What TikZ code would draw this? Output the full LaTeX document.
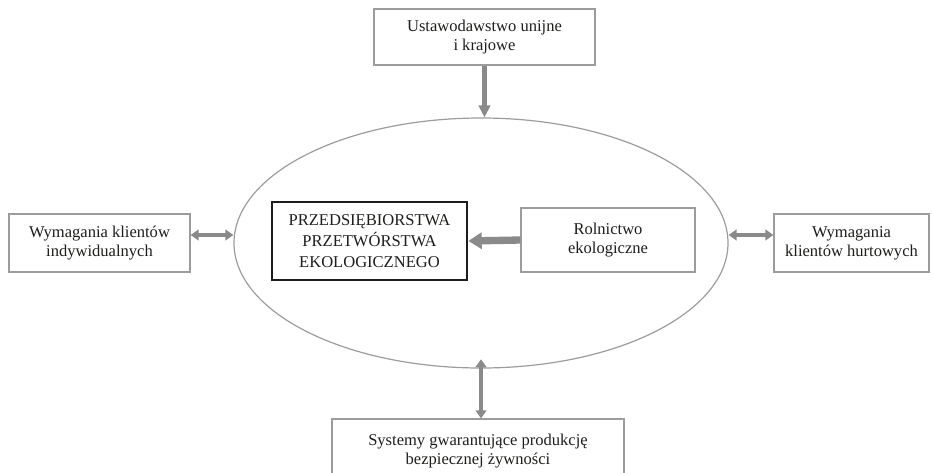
\documentclass[tikz,border=0pt]{standalone}
\usepackage{fontspec}
\setmainfont{Liberation Serif}
\usetikzlibrary{arrows.meta,positioning,calc,shapes.geometric}
\definecolor{ink}{HTML}{1D1D1B}
\definecolor{frame}{HTML}{9C9C9C}
\definecolor{shaft}{HTML}{8A8A8A}
\tikzset{
  base/.style={align=center, inner sep=0pt, font=\fontsize{12.4}{14.5}\selectfont, text=ink},
  card/.style={base, draw=frame, line width=0.9pt},
  core/.style={base, draw=ink, line width=2pt, font=\fontsize{12.4}{16}\selectfont},
  oval/.style={ellipse, draw=frame, line width=0.9pt, inner sep=0pt},
  push/.style={-{Triangle[length=9pt,width=8.5pt]}, line width=3.3pt, draw=shaft, fill=shaft},
  fat/.style={-{Triangle[length=10pt,width=12pt]}, line width=5.5pt, draw=shaft, fill=shaft},
  both/.style={{Triangle[length=6pt,width=8pt]}-{Triangle[length=6pt,width=8pt]}, line width=3.3pt, draw=shaft, fill=shaft},
}

\begin{document}
\begin{tikzpicture}[x=0.75pt,y=-0.75pt]
        \useasboundingbox (0,0) rectangle (932,472);
        \node[oval, minimum width=370.5pt, minimum height=187.5pt] (market) at (481,243) {};
        \node[card, minimum width=165.75pt, minimum height=42pt] (law) at (484.5,37) {Ustawodawstwo unijne\\i krajowe};
        \node[card, minimum width=135.75pt, minimum height=43.5pt] (indiv) at (99.5,243) {Wymagania klientów\\indywidualnych};
        \node[card, minimum width=116.25pt, minimum height=43.5pt] (whole) at (851.5,243) {Wymagania\\klientów hurtowych};
        \node[core, minimum width=146.25pt, minimum height=58.5pt] (firm) at (369.5,241) {PRZEDSIĘBIORSTWA\\PRZETWÓRSTWA\\EKOLOGICZNEGO};
        \node[card, minimum width=130.5pt, minimum height=48pt] (organic) at (608,240) {Rolnictwo\\ekologiczne};
        \node[card, minimum width=219pt, minimum height=48pt] (safety) at (478,451) {Systemy gwarantujące produkcję\\bezpiecznej żywności};
        \draw[push] (law.south) -- (law.south |- market.north);
        \draw[fat] (organic.west) -- (firm.east);
        \draw[both] ([yshift=6pt]indiv.east) -- ([yshift=6pt]market.west);
        \draw[both] ([yshift=6pt]market.east) -- ([yshift=6pt]whole.west);
        \draw[both] ([yshift=7pt]market.south) -- (market.south |- safety.north);
      \end{tikzpicture}
\end{document}
